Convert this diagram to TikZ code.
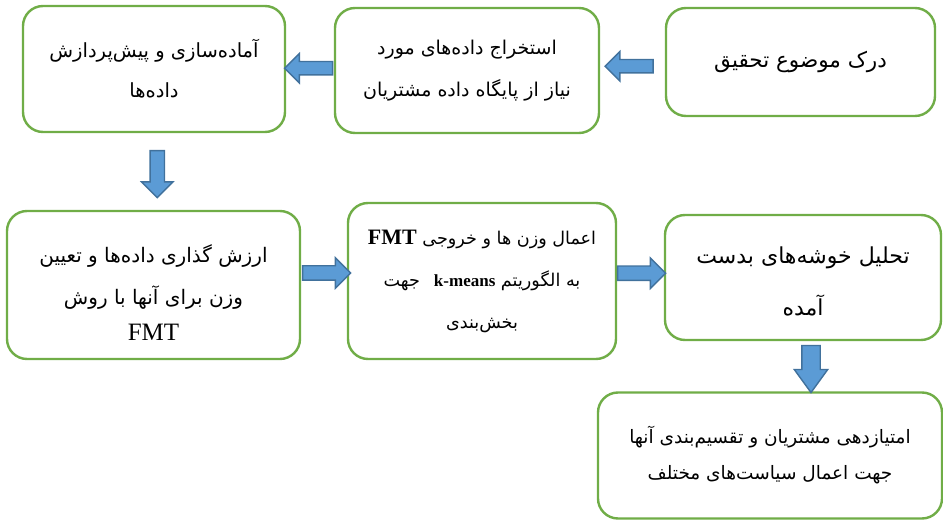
\documentclass[tikz,border=0pt]{standalone}
\usepackage{fontspec}
\usetikzlibrary{shapes.arrows,calc}
\TeXXeTstate=1
\newfontfamily\fa[Script=Arabic]{DejaVu Sans}
\newfontfamily\lat{Liberation Serif}
\definecolor{boxgreen}{HTML}{70AD47}
\definecolor{arrfill}{HTML}{5B9BD5}
\definecolor{arrline}{HTML}{41719C}
\newcommand{\fs}[2]{\fa\fontsize{#1}{#2}\selectfont}
\begin{document}
\begin{tikzpicture}[x=1pt,y=-1pt,
  box/.style={draw=boxgreen,line width=2.4pt,rounded corners=20pt,fill=white,
    align=center,inner sep=0pt},
  boxtext/.style={align=center,inner sep=0pt},
  blockarrow/.style={single arrow,draw=arrline,fill=arrfill,line width=1.4pt,
    inner xsep=0pt,inner ysep=6pt,single arrow head indent=0pt,single arrow head extend=8pt},
  harrow/.style={blockarrow,minimum height=48pt},
]
\useasboundingbox (0,0) rectangle (943,521);

\node[box,minimum width=262pt,minimum height=126pt,font=\fs{19.5}{40}] (b1) at (154,69)
  {\beginR آماده‌سازی و پیش‌پردازش\endR\\\beginR داده‌ها\endR};
\node[box,minimum width=264pt,minimum height=125pt,font=\fs{19}{42}] (b2) at (467,70.5)
  {\beginR استخراج داده‌های مورد\endR\\\beginR نیاز از پایگاه داده مشتریان\endR};
\node[box,minimum width=269pt,minimum height=108pt,font=\fs{21.5}{40}] (b3) at (800.5,62)
  {\beginR درک موضوع تحقیق\endR};
\node[box,minimum width=293pt,minimum height=148pt] (b4) at (153.5,285) {};
\node[boxtext,font=\fs{20}{42}] (b4t) at ($(b4.center)+(0,8)$)
  {\beginR ارزش گذاری داده‌ها و تعیین\endR\\\beginR وزن برای آنها با روش\endR\\[-6pt]{\lat\fontsize{25}{30}\selectfont FMT}};
\node[box,minimum width=268pt,minimum height=156pt,font=\fs{17.6}{42}] (b5) at (482,281)
  {\beginR اعمال وزن ها و خروجی {\lat\bfseries\fontsize{22}{30}\selectfont\beginL FMT\endL}\endR\\
   \beginR به الگوریتم {\lat\bfseries\fontsize{17}{30}\selectfont\beginL\ \ k-means\endL} جهت\endR\\
   \beginR بخش‌بندی\endR};
\node[box,minimum width=276pt,minimum height=125pt] (b6) at (803,277.5) {};
\node[boxtext,font=\fs{22}{52}] (b6t) at ($(b6.center)+(0,4)$)
  {\beginR تحلیل خوشه‌های بدست\endR\\\beginR آمده\endR};
\node[box,minimum width=344pt,minimum height=126pt,font=\fs{18.5}{36}] (b7) at (770,455.5)
  {\beginR امتیازدهی مشتریان و تقسیم‌بندی آنها\endR\\\beginR جهت اعمال سیاست‌های مختلف\endR};

\node[harrow,rotate=180] (a1) at ($(b2.west)!0.5!(b1.east)+(2,-1.5)$) {};
\node[harrow,rotate=180] (a2) at ($(b3.west)!0.5!(b2.east)+(0,0)$) {};
\node[harrow,minimum height=47pt,inner ysep=6.5pt,single arrow head extend=8.5pt,rotate=-90] (a3) at ($(b1.south)!0.5!(b4.north)+(3.5,-1)$) {};
\node[harrow,inner ysep=6.5pt] (a4) at ($(b4.east)!0.5!(b5.west)+(-1,-10)$) {};
\node[harrow,inner ysep=6.5pt] (a5) at ($(b5.east)!0.5!(b6.west)+(-2.5,-6)$) {};
\node[harrow,minimum height=47pt,inner ysep=8.5pt,single arrow head extend=7.5pt,single arrow tip angle=72,rotate=-90] (a6) at ($(b6.south)+(8,21.5)$) {};
\end{tikzpicture}
\end{document}
